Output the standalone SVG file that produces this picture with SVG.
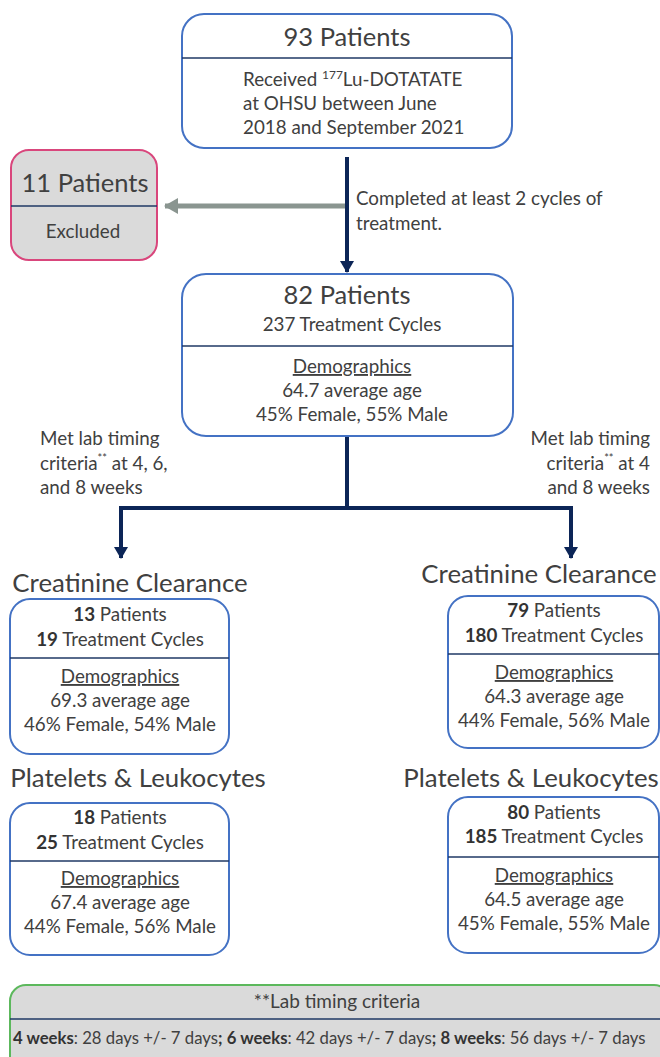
<svg xmlns="http://www.w3.org/2000/svg" width="660" height="1057" viewBox="0 0 660 1057">
<defs>
<style>
.t{font-family:Lato,"Liberation Sans",sans-serif;fill:#404040}
.c{text-anchor:middle}
.box{fill:#fff;stroke:#4472c4;stroke-width:2}
.div{stroke:#1f3864;stroke-width:1.5}
.b{font-weight:bold;fill:#333}
.h24{font-size:25.5px}
.s16{font-size:18.8px}
.h22{font-size:25.8px}
.nv{stroke:#0c2557;stroke-width:4;fill:none}
</style>
<marker id="an" viewBox="0 0 12 14" refX="11" refY="7" markerWidth="12" markerHeight="14" markerUnits="userSpaceOnUse" orient="auto"><path d="M0,0 L12,7 L0,14 Z" fill="#0c2557"/></marker>
<marker id="ag" viewBox="0 0 14 16" refX="13" refY="8" markerWidth="14" markerHeight="16" markerUnits="userSpaceOnUse" orient="auto"><path d="M0,0 L14,8 L0,16 Z" fill="#8a9590"/></marker>
</defs>
<rect width="660" height="1057" fill="#fff"/>

<g id="connectors">
<line x1="345" y1="206" x2="165" y2="206" stroke="#8a9590" stroke-width="5" marker-end="url(#ag)"/>
<line x1="347" y1="157" x2="347" y2="272" class="nv" marker-end="url(#an)"/>
<path d="M347 436 V508 M119 508 H573" class="nv"/>
<line x1="121" y1="506" x2="121" y2="558" class="nv" marker-end="url(#an)"/>
<line x1="571" y1="506" x2="571" y2="558" class="nv" marker-end="url(#an)"/>
<text class="t s16" x="356" y="205">Completed at least 2 cycles of</text>
<text class="t s16" x="356" y="230">treatment.</text>
<text class="t s16" x="40" y="445">Met lab timing</text>
<text class="t s16" x="40" y="470">criteria<tspan font-size="11" dy="-8">**</tspan><tspan dy="8"> at 4, 6,</tspan></text>
<text class="t s16" x="40" y="494">and 8 weeks</text>
<text class="t s16" x="650" y="445" text-anchor="end">Met lab timing</text>
<text class="t s16" x="650" y="470" text-anchor="end">criteria<tspan font-size="11" dy="-8">**</tspan><tspan dy="8"> at 4</tspan></text>
<text class="t s16" x="650" y="494" text-anchor="end">and 8 weeks</text>
</g>

<g id="start">
<rect class="box" x="182" y="14" width="330" height="134" rx="22"/>
<line class="div" x1="182" y1="58" x2="512" y2="58"/>
<text class="t c h24" x="347" y="46">93 Patients</text>
<text class="t s16" x="243" y="86">Received <tspan font-size="12" dy="-7">177</tspan><tspan dy="7">Lu-DOTATATE</tspan></text>
<text class="t s16" x="243" y="110">at OHSU between June</text>
<text class="t s16" x="243" y="134">2018 and September 2021</text>
</g>

<g id="excluded">
<rect x="11" y="150" width="146" height="110" rx="18" fill="#dadada" stroke="#d9467c" stroke-width="2"/>
<line class="div" x1="11" y1="206" x2="157" y2="206"/>
<text class="t c h24" x="85" y="192">11 Patients</text>
<text class="t c s16" x="83" y="238" font-size="18">Excluded</text>
</g>

<g id="cohort">
<rect class="box" x="182" y="274" width="331" height="162" rx="24"/>
<line class="div" x1="182" y1="346" x2="513" y2="346"/>
<text class="t c h24" x="347" y="304">82 Patients</text>
<text class="t c s16" x="352" y="331">237 Treatment Cycles</text>
<text class="t c s16" x="352" y="373" text-decoration="underline">Demographics</text>
<text class="t c s16" x="352" y="397">64.7 average age</text>
<text class="t c s16" x="352" y="421">45% Female, 55% Male</text>
</g>

<g id="left-crcl">
<text class="t c h22" x="130" y="592">Creatinine Clearance</text>
<rect class="box" x="10" y="599" width="219" height="155" rx="20"/>
<line class="div" x1="10" y1="658" x2="229" y2="658"/>
<text class="t c s16" x="120" y="621"><tspan class="b">13</tspan> Patients</text>
<text class="t c s16" x="120" y="646"><tspan class="b">19</tspan> Treatment Cycles</text>
<text class="t c s16" x="120" y="683" text-decoration="underline">Demographics</text>
<text class="t c s16" x="120" y="707">69.3 average age</text>
<text class="t c s16" x="120" y="731">46% Female, 54% Male</text>
</g>

<g id="right-crcl">
<text class="t c h22" x="539" y="583">Creatinine Clearance</text>
<rect class="box" x="448" y="596" width="211" height="152" rx="20"/>
<line class="div" x1="448" y1="654" x2="659" y2="654"/>
<text class="t c s16" x="554" y="617"><tspan class="b">79</tspan> Patients</text>
<text class="t c s16" x="554" y="642"><tspan class="b">180</tspan> Treatment Cycles</text>
<text class="t c s16" x="554" y="679" text-decoration="underline">Demographics</text>
<text class="t c s16" x="554" y="703">64.3 average age</text>
<text class="t c s16" x="554" y="727">44% Female, 56% Male</text>
</g>

<g id="left-plt">
<text class="t c h22" x="138" y="787">Platelets &amp; Leukocytes</text>
<rect class="box" x="10" y="803" width="219" height="152" rx="20"/>
<line class="div" x1="10" y1="861" x2="229" y2="861"/>
<text class="t c s16" x="120" y="824"><tspan class="b">18</tspan> Patients</text>
<text class="t c s16" x="120" y="849"><tspan class="b">25</tspan> Treatment Cycles</text>
<text class="t c s16" x="120" y="885" text-decoration="underline">Demographics</text>
<text class="t c s16" x="120" y="909">67.4 average age</text>
<text class="t c s16" x="120" y="933">44% Female, 56% Male</text>
</g>

<g id="right-plt">
<text class="t c h22" x="531" y="787">Platelets &amp; Leukocytes</text>
<rect class="box" x="448" y="797" width="211" height="156" rx="20"/>
<line class="div" x1="448" y1="857" x2="659" y2="857"/>
<text class="t c s16" x="554" y="819"><tspan class="b">80</tspan> Patients</text>
<text class="t c s16" x="554" y="843"><tspan class="b">185</tspan> Treatment Cycles</text>
<text class="t c s16" x="554" y="882" text-decoration="underline">Demographics</text>
<text class="t c s16" x="554" y="906">64.5 average age</text>
<text class="t c s16" x="554" y="930">45% Female, 55% Male</text>
</g>

<g id="footer">
<rect x="10" y="985" width="660" height="90" rx="16" fill="#dadada" stroke="#5cb85c" stroke-width="2"/>
<line class="div" x1="10" y1="1019" x2="660" y2="1019"/>
<text class="t c" font-size="19" x="337" y="1008">**Lab timing criteria</text>
<text class="t" font-size="16.7" x="13" y="1044"><tspan class="b">4 weeks</tspan>: 28 days +/- 7 days<tspan class="b">;</tspan> <tspan class="b">6 weeks</tspan>: 42 days +/- 7 days<tspan class="b">;</tspan> <tspan class="b">8 weeks</tspan>: 56 days +/- 7 days</text>
</g>
</svg>
